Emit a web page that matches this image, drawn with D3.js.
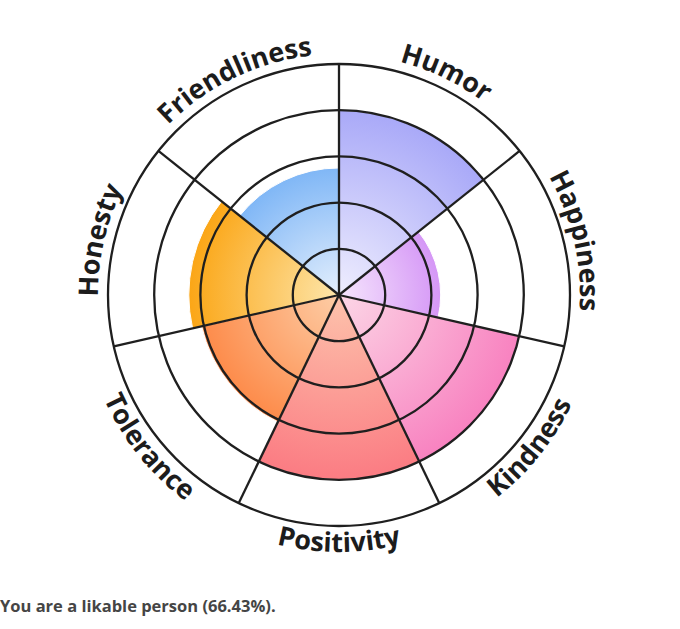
<!DOCTYPE html>
<html>
<head>
<meta charset="utf-8">
<script src="https://cdn.jsdelivr.net/npm/d3@7"></script>
<style>
  body { margin: 0; background: #fff; }
  svg { display: block; font-family: "Open Sans", sans-serif; }
</style>
</head>
<body>
<div id="chart"></div>
<script>
// data (percent of the outer ring)
const traits = ["Humor", "Happiness", "Kindness", "Positivity", "Tolerance", "Honesty", "Friendliness"];
const scores = [80, 44, 80, 80, 61, 65, 55];
const ringTicks = [20, 40, 60, 80, 100];
const innerColors = ["#efeefe", "#f6e6fd", "#fcd6e6", "#fdc3ac", "#fdcda6", "#fde6ab", "#e4effd"];
const outerColors = ["#a9a9f8", "#d597f6", "#f882c0", "#fb7c83", "#fd8b4a", "#fba616", "#80b7f6"];

let svgWidth = 680;
let svgHeight = 629;
let cx = 339;
let cy = 295;
let maxRadius = 231;

let svg = d3.select("#chart")
  .append("svg")
  .attr("width", svgWidth)
  .attr("height", svgHeight);

let angle = d3.scaleBand()
  .domain(traits)
  .range([0, 2 * Math.PI])
  .padding(0);

let radius = d3.scaleLinear()
  .domain([0, 100])
  .range([0, maxRadius]);

let rows = traits.map((t, i) => ({ trait: t, score: scores[i], inner: innerColors[i], outer: outerColors[i] }));

let g = svg.append("g")
  .attr("transform", "translate(" + cx + "," + cy + ")");

// one radial gradient per slice, light in the middle
let defs = svg.append("defs");
let grads = defs.selectAll("radialGradient")
  .data(rows)
  .enter()
  .append("radialGradient")
  .attr("id", (d, i) => "grad" + i)
  .attr("gradientUnits", "userSpaceOnUse")
  .attr("cx", 0)
  .attr("cy", 0)
  .attr("r", d => radius(d.score));
grads.append("stop").attr("offset", "0%").attr("stop-color", d => d.inner);
grads.append("stop").attr("offset", "100%").attr("stop-color", d => d.outer);

let arc = d3.arc()
  .innerRadius(0)
  .outerRadius(d => radius(d.score))
  .startAngle(d => angle(d.trait))
  .endAngle(d => angle(d.trait) + angle.bandwidth());

g.selectAll(".slice")
  .data(rows)
  .enter()
  .append("path")
  .attr("class", "slice")
  .attr("d", arc)
  .attr("fill", (d, i) => "url(#grad" + i + ")")
  .attr("stroke", "#fff")
  .attr("stroke-width", 1);

// rings
g.selectAll(".ring")
  .data(ringTicks)
  .enter()
  .append("circle")
  .attr("class", "ring")
  .attr("r", d => radius(d))
  .attr("fill", "none")
  .attr("stroke", "#1f1f1f")
  .attr("stroke-width", 2.3);

// spokes at the slice borders
g.selectAll(".spoke")
  .data(traits)
  .enter()
  .append("line")
  .attr("class", "spoke")
  .attr("x1", 0)
  .attr("y1", 0)
  .attr("x2", d => radius(100) * Math.sin(angle(d)))
  .attr("y2", d => -radius(100) * Math.cos(angle(d)))
  .attr("stroke", "#1f1f1f")
  .attr("stroke-width", 2.3);

// curved labels, upright on the bottom half
let span = 1.0;
function labelPath(t) {
  let mid = angle(t) + angle.bandwidth() / 2;
  let p = d3.path();
  if (Math.cos(mid) >= 0) {
    p.arc(0, 0, 241, mid - span - Math.PI / 2, mid + span - Math.PI / 2, false);
  } else {
    p.arc(0, 0, 257, mid + span - Math.PI / 2, mid - span - Math.PI / 2, true);
  }
  return p.toString();
}

g.selectAll(".labelPath")
  .data(traits)
  .enter()
  .append("path")
  .attr("class", "labelPath")
  .attr("id", (d, i) => "lp" + i)
  .attr("d", labelPath)
  .attr("fill", "none");

g.selectAll(".label")
  .data(traits)
  .enter()
  .append("text")
  .attr("class", "label")
  .attr("font-size", 27)
  .attr("font-weight", 700)
  .attr("fill", "#1c1c1c")
  .append("textPath")
  .attr("href", (d, i) => "#lp" + i)
  .attr("startOffset", "50%")
  .attr("text-anchor", "middle")
  .text(d => d);

svg.append("text")
  .attr("x", 0)
  .attr("y", 612)
  .attr("font-size", 16.5)
  .attr("font-weight", 700)
  .attr("fill", "#454545")
  .text("You are a likable person (" + d3.format(".2f")(d3.mean(scores)) + "%).");
</script>
</body>
</html>
